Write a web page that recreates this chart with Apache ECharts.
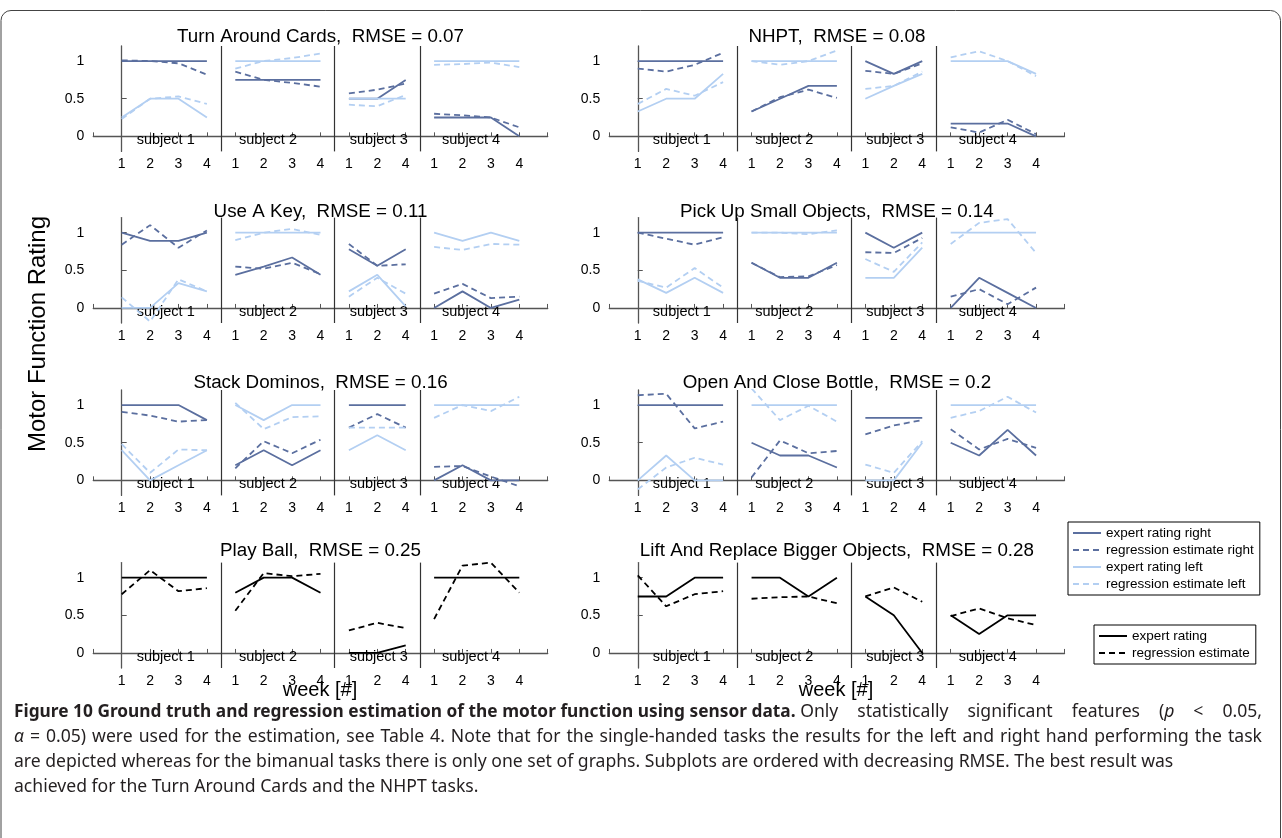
<!DOCTYPE html>
<html>
<head>
<meta charset="utf-8">
<script src="https://cdn.jsdelivr.net/npm/echarts@6/dist/echarts.min.js"></script>
<style>
  html, body { margin: 0; padding: 0; background: #fff; }
  #chart { width: 1282px; height: 838px; }
</style>
</head>
<body>
<div id="chart"></div>
<script>
// weeks per subject (subject 3 has no week 3)
const weeks = [[1, 2, 3, 4], [1, 2, 3, 4], [1, 2, 4], [1, 2, 3, 4]];
const subjectNames = ["subject 1", "subject 2", "subject 3", "subject 4"];
const yTicks = [0, 0.5, 1];

// Turn Around Cards
const cardsExpertRight = [[1, 1, 1, 1], [0.75, 0.75, 0.75, 0.75], [0.5, 0.5, 0.75], [0.25, 0.25, 0.25, 0]];
const cardsEstimateRight = [[1.01, 1.0, 0.97, 0.82], [0.86, 0.75, 0.71, 0.66], [0.57, 0.62, 0.7], [0.3, 0.28, 0.25, 0.12]];
const cardsExpertLeft = [[0.25, 0.5, 0.5, 0.25], [1, 1, 1, 1], [0.5, 0.5, 0.5], [1, 1, 1, 1]];
const cardsEstimateLeft = [[0.23, 0.5, 0.53, 0.43], [0.9, 1.0, 1.04, 1.1], [0.42, 0.4, 0.55], [0.95, 0.96, 0.98, 0.92]];

// NHPT
const nhptExpertRight = [[1, 1, 1, 1], [0.33, 0.5, 0.67, 0.67], [1, 0.83, 1], [0.17, 0.17, 0.17, 0]];
const nhptEstimateRight = [[0.9, 0.86, 0.95, 1.11], [0.33, 0.52, 0.62, 0.51], [0.87, 0.83, 0.97], [0.12, 0.05, 0.22, 0.03]];
const nhptExpertLeft = [[0.33, 0.5, 0.5, 0.83], [1, 1, 1, 1], [0.5, 0.67, 0.83], [1, 1, 1, 0.83]];
const nhptEstimateLeft = [[0.43, 0.63, 0.54, 0.72], [1.0, 0.95, 1.0, 1.14], [0.63, 0.67, 0.86], [1.05, 1.13, 1.0, 0.8]];

// Use A Key
const keyExpertRight = [[1, 0.89, 0.89, 1], [0.44, 0.55, 0.67, 0.44], [0.78, 0.56, 0.78], [0, 0.22, 0, 0.11]];
const keyEstimateRight = [[0.84, 1.1, 0.8, 1.03], [0.55, 0.52, 0.6, 0.45], [0.85, 0.56, 0.58], [0.19, 0.32, 0.13, 0.15]];
const keyExpertLeft = [[0, 0, 0.33, 0.22], [1, 1, 1, 1], [0.22, 0.44, 0.02], [1, 0.89, 1, 0.89]];
const keyEstimateLeft = [[0.14, -0.18, 0.38, 0.22], [0.9, 1.0, 1.05, 0.97], [0.15, 0.4, 0.19], [0.81, 0.77, 0.85, 0.84]];

// Pick Up Small Objects
const pickExpertRight = [[1, 1, 1, 1], [0.6, 0.4, 0.4, 0.6], [1, 0.8, 1], [0, 0.4, 0.2, 0]];
const pickEstimateRight = [[1.0, 0.92, 0.84, 0.94], [0.6, 0.41, 0.42, 0.57], [0.74, 0.73, 0.93], [0.15, 0.25, 0.05, 0.27]];
const pickExpertLeft = [[0.38, 0.2, 0.4, 0.2], [1, 1, 1, 1], [0.4, 0.4, 0.8], [1, 1, 1, 1]];
const pickEstimateLeft = [[0.36, 0.27, 0.53, 0.27], [1.0, 1.0, 0.98, 1.03], [0.65, 0.48, 0.87], [0.85, 1.13, 1.18, 0.73]];

// Stack Dominos
const dominoExpertRight = [[1, 1, 1, 0.8], [0.2, 0.4, 0.2, 0.4], [1, 1, 1], [0, 0.2, 0, 0]];
const dominoEstimateRight = [[0.91, 0.86, 0.78, 0.8], [0.16, 0.52, 0.36, 0.54], [0.7, 0.88, 0.7], [0.18, 0.19, 0.05, -0.08]];
const dominoExpertLeft = [[0.4, 0, 0.2, 0.4], [1, 0.8, 1, 1], [0.4, 0.6, 0.4], [1, 1, 1, 1]];
const dominoEstimateLeft = [[0.48, 0.1, 0.41, 0.4], [1.03, 0.68, 0.84, 0.85], [0.7, 0.7, 0.7], [0.83, 1.0, 0.92, 1.11]];

// Open And Close Bottle
const bottleExpertRight = [[1, 1, 1, 1], [0.5, 0.33, 0.33, 0.17], [0.83, 0.83, 0.83], [0.5, 0.33, 0.67, 0.33]];
const bottleEstimateRight = [[1.13, 1.15, 0.69, 0.78], [0.04, 0.53, 0.36, 0.39], [0.61, 0.73, 0.8], [0.68, 0.41, 0.55, 0.43]];
const bottleExpertLeft = [[0, 0.33, 0, 0], [1, 1, 1, 1], [0, 0, 0.5], [1, 1, 1, 1]];
const bottleEstimateLeft = [[-0.12, 0.17, 0.3, 0.21], [1.22, 0.8, 0.99, 0.78], [0.21, 0.1, 0.52], [0.83, 0.92, 1.11, 0.9]];

// Play Ball (bimanual)
const ballExpert = [[1, 1, 1, 1], [0.8, 1, 1, 0.8], [0, 0, 0.1], [1, 1, 1, 1]];
const ballEstimate = [[0.78, 1.1, 0.82, 0.86], [0.56, 1.06, 1.02, 1.05], [0.3, 0.4, 0.33], [0.45, 1.16, 1.2, 0.8]];

// Lift And Replace Bigger Objects (bimanual)
const liftExpert = [[0.75, 0.75, 1, 1], [1, 1, 0.75, 1], [0.75, 0.5, 0], [0.5, 0.25, 0.5, 0.5]];
const liftEstimate = [[1.03, 0.62, 0.78, 0.82], [0.72, 0.74, 0.75, 0.66], [0.75, 0.87, 0.68], [0.49, 0.59, 0.46, 0.37]];

const titles = [
  "Turn Around Cards,  RMSE = 0.07",
  "NHPT,  RMSE = 0.08",
  "Use A Key,  RMSE = 0.11",
  "Pick Up Small Objects,  RMSE = 0.14",
  "Stack Dominos,  RMSE = 0.16",
  "Open And Close Bottle,  RMSE = 0.2",
  "Play Ball,  RMSE = 0.25",
  "Lift And Replace Bigger Objects,  RMSE = 0.28"
];

const captionLines = [
  "{b|Figure 10 Ground truth and regression estimation of the motor function using sensor data.}{n| Only statistically significant features (}{i|p}{n| < 0.05,}",
  "{i|α}{n| = 0.05) were used for the estimation, see Table 4. Note that for the single-handed tasks the results for the left and right hand performing the task}",
  "{n|are depicted whereas for the bimanual tasks there is only one set of graphs. Subplots are ordered with decreasing RMSE. The best result was}",
  "{n|achieved for the Turn Around Cards and the NHPT tasks.}"
];

const DARK = "#5b6f9f", LIGHT = "#b3cff2", BLACK = "#000";
const FONT = "'Liberation Sans', Arial, sans-serif";

const single = (er, es, el, esl) => [
  ["expert rating right", er, DARK, false],
  ["regression estimate right", es, DARK, true],
  ["expert rating left", el, LIGHT, false],
  ["regression estimate left", esl, LIGHT, true]
];
const both = (e, es) => [
  ["expert rating", e, BLACK, false],
  ["regression estimate", es, BLACK, true]
];

const panels = [
  single(cardsExpertRight, cardsEstimateRight, cardsExpertLeft, cardsEstimateLeft),
  single(nhptExpertRight, nhptEstimateRight, nhptExpertLeft, nhptEstimateLeft),
  single(keyExpertRight, keyEstimateRight, keyExpertLeft, keyEstimateLeft),
  single(pickExpertRight, pickEstimateRight, pickExpertLeft, pickEstimateLeft),
  single(dominoExpertRight, dominoEstimateRight, dominoExpertLeft, dominoEstimateLeft),
  single(bottleExpertRight, bottleEstimateRight, bottleExpertLeft, bottleEstimateLeft),
  both(ballExpert, ballEstimate),
  both(liftExpert, liftEstimate)
];

// x positions: weeks of all subjects laid one after another
const starts = [];
let acc = 0;
weeks.forEach(w => { starts.push(acc); acc += w.length; });
const weekLabels = weeks.flat();
const dividers = starts.slice(1).map(s => s - 0.5);
const subjectLabelX = [1.55, 5.15, 9.05, 12.3];

// layout
const colLeft = [93.3, 609.3];
const colWidth = [454.4, 455.2];
const rowTop = [46, 217.6, 390, 562.6];
const rowTitleY = [37, 212, 383, 551];
const gridHeight = 105.4;

const grids = [], xAxes = [], yAxes = [], series = [], graphics = [];

panels.forEach((lines, p) => {
  const col = p % 2, row = Math.floor(p / 2);
  grids.push({ left: colLeft[col], top: rowTop[row], width: colWidth[col], height: gridHeight });
  xAxes.push({
    gridIndex: p, type: "value", min: -1, max: 15, interval: 1,
    axisLine: { lineStyle: { color: "#555", width: 1.3 } },
    axisTick: { inside: true, length: 4, lineStyle: { color: "#555" } },
    axisLabel: {
      margin: 6, color: "#000", fontSize: 14, fontFamily: FONT,
      formatter: v => (weekLabels[v] !== undefined ? String(weekLabels[v]) : "")
    },
    splitLine: { show: false }
  });
  yAxes.push({
    gridIndex: p, type: "value", min: -0.2, max: 1.2,
    axisLine: { show: true, lineStyle: { color: "#555", width: 1.3 } },
    axisTick: { show: true, inside: true, length: 5, customValues: yTicks, lineStyle: { color: "#555" } },
    axisLabel: { margin: 9, color: "#000", fontSize: 14, fontFamily: FONT, customValues: yTicks, formatter: v => String(v) },
    splitLine: { show: false }
  });

  lines.forEach(([name, arr, color, dashed], k) => {
    arr.forEach((vals, s) => {
      const ser = {
        name: name, type: "line", xAxisIndex: p, yAxisIndex: p,
        symbol: "none", silent: true, z: dashed ? 3 : 2,
        lineStyle: { color: color, width: 1.8, type: dashed ? [6, 4] : "solid" },
        itemStyle: { color: color },
        data: vals.map((v, i) => [starts[s] + i, v])
      };
      if (k === 0 && s === 0) {
        ser.markLine = {
          silent: true, symbol: ["none", "none"], label: { show: false },
          lineStyle: { color: "#333", width: 1.2, type: "solid" },
          data: dividers.map(d => ({ xAxis: d }))
        };
      }
      series.push(ser);
    });
  });

  graphics.push({
    type: "text", x: colLeft[col] + colWidth[col] / 2, y: rowTitleY[row],
    style: { text: titles[p], fill: "#000", font: "18.8px " + FONT, textAlign: "center", textVerticalAlign: "middle" }
  });
});

graphics.push(
  { type: "rect", shape: { x: 1, y: 10.5, width: 1279.5, height: 840, r: 10 }, style: { fill: "none", stroke: "#444", lineWidth: 1 }, z: -1 },
  { type: "text", x: 38, y: 334, rotation: Math.PI / 2, style: { text: "Motor Function Rating", fill: "#000", font: "24px " + FONT, textAlign: "center", textVerticalAlign: "middle" } },
  { type: "text", x: 320, y: 690, style: { text: "week [#]", fill: "#000", font: "20px " + FONT, textAlign: "center", textVerticalAlign: "middle" } },
  { type: "text", x: 836, y: 690, style: { text: "week [#]", fill: "#000", font: "20px " + FONT, textAlign: "center", textVerticalAlign: "middle" } }
);

// caption: word-by-word layout; the bold lead keeps natural spacing,
// the rest of the first two lines is spread to the right margin
const CAP = "'Noto Sans', 'Open Sans', sans-serif";
const capFont = { b: "bold 17.3px " + CAP, n: "17.6px " + CAP, i: "italic 17.6px " + CAP };
const measure = document.createElement("canvas").getContext("2d");
function textWidth(t, st) { measure.font = capFont[st]; return measure.measureText(t).width; }
function captionWords(s) {
  const pieces = [], re = /\{(\w)\|([^}]*)\}/g;
  let m;
  while ((m = re.exec(s))) pieces.push([m[1], m[2]]);
  const words = [];
  let cur = [];
  pieces.forEach(([st, txt]) => {
    txt.split(" ").forEach((pt, j) => {
      if (j > 0 && cur.length) { words.push(cur); cur = []; }
      if (pt) cur.push([st, pt]);
    });
  });
  if (cur.length) words.push(cur);
  return words;
}
const capX0 = 14, capX1 = 1262;
captionLines.forEach((line, li) => {
  const words = captionWords(line);
  const widths = words.map(w => w.reduce((a, [st, t]) => a + textWidth(t, st), 0));
  const space = textWidth(" ", "n");
  const nFixed = words.filter(w => w.every(([st]) => st === "b")).length;
  let x = capX0;
  words.forEach((w, k) => {
    let px = x;
    w.forEach(([st, t]) => {
      graphics.push({
        type: "text", x: px, y: 712 + li * 25,
        style: { text: t, font: capFont[st], fill: "#231f20", textAlign: "left", textVerticalAlign: "middle" }
      });
      px += textWidth(t, st);
    });
    let gap = space;
    if (li < 2 && k >= nFixed && k < words.length - 1) {
      const rest = widths.slice(k + 1).reduce((a, b) => a + b, 0);
      gap = (capX1 - (x + widths[k]) - rest) / (words.length - 1 - k);
    }
    x += widths[k] + gap;
  });
});

const legendCommon = {
  orient: "vertical", backgroundColor: "#fff", borderColor: "#000", borderWidth: 1, borderRadius: 0,
  padding: [4, 6, 4, 4], itemGap: 3, itemWidth: 28, itemHeight: 14, selectedMode: false,
  itemStyle: { opacity: 0 },
  textStyle: { fontSize: 13.5, color: "#000", fontFamily: FONT }
};

const chart = echarts.init(document.getElementById("chart"), null, { renderer: "canvas" });
chart.setOption({
  animation: false,
  backgroundColor: "#fff",
  grid: grids,
  xAxis: xAxes,
  yAxis: yAxes,
  legend: [
    Object.assign({}, legendCommon, {
      left: 1068, top: 522,
      data: ["expert rating right", "regression estimate right", "expert rating left", "regression estimate left"]
    }),
    Object.assign({}, legendCommon, {
      left: 1094, top: 625,
      data: ["expert rating", "regression estimate"]
    })
  ],
  series: series
});

// subject labels placed through each panel's axes
panels.forEach((lines, p) => {
  subjectNames.forEach((n, s) => {
    const pt = chart.convertToPixel({ gridIndex: p }, [subjectLabelX[s], -0.05]);
    graphics.push({
      type: "text", x: pt[0], y: pt[1], z: 1,
      style: { text: n, fill: "#000", font: "14.5px " + FONT, textAlign: "center", textVerticalAlign: "middle" }
    });
  });
});

chart.setOption({ graphic: graphics });
</script>
</body>
</html>
